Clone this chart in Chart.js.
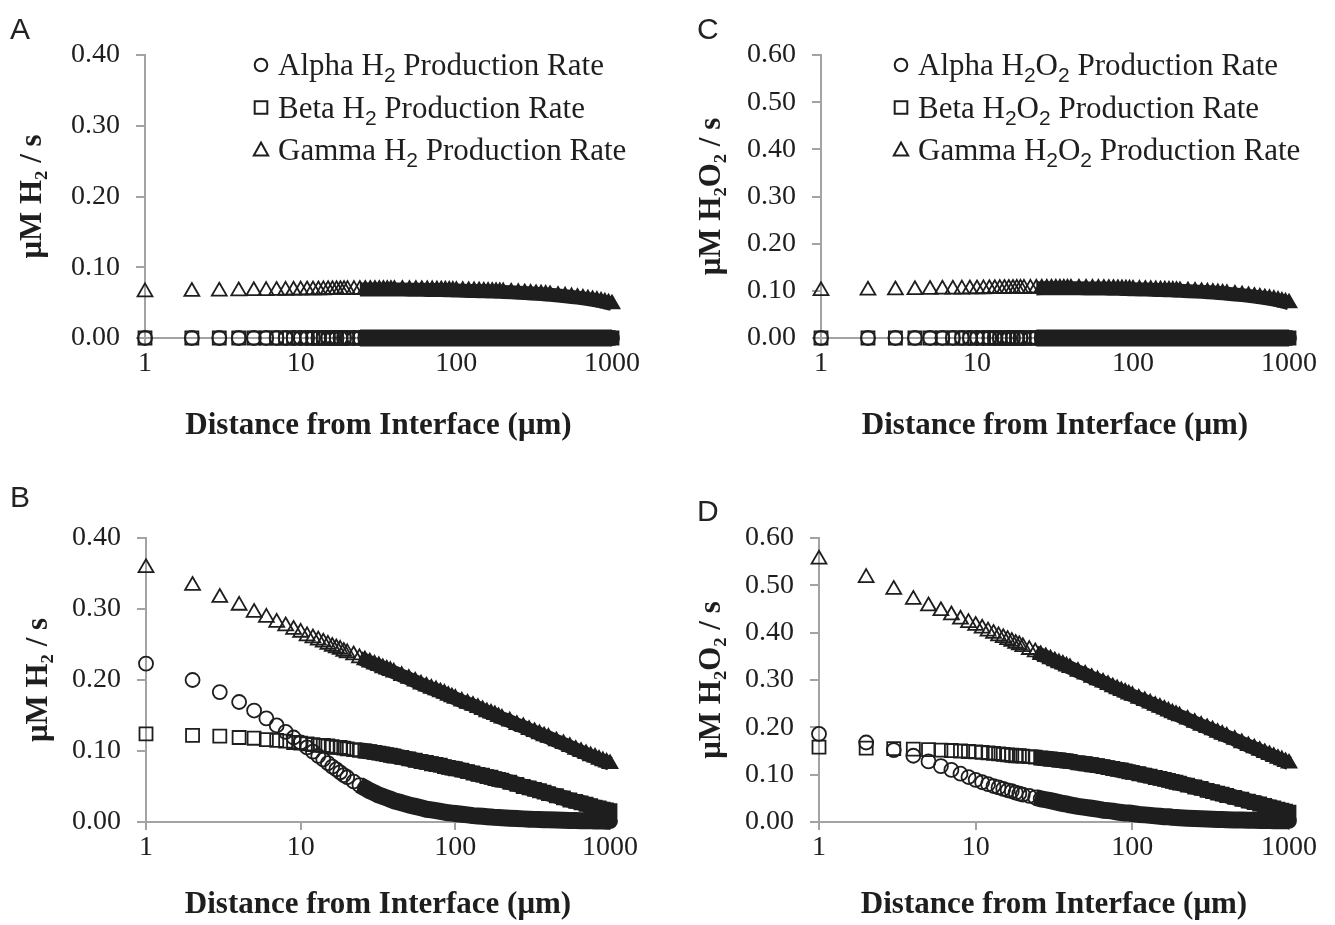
<!DOCTYPE html>
<html>
<head>
<meta charset="utf-8">
<script src="https://cdn.jsdelivr.net/npm/chart.js@4.4.1/dist/chart.umd.min.js"></script>
<style>
  html, body { margin: 0; padding: 0; background: #fff; }
  #wrap { position: relative; width: 1335px; height: 925px; overflow: hidden; }
  #wrap canvas { position: absolute; }
  .letter { position: absolute; font-family: "Liberation Sans", Arial, sans-serif; font-size: 30px; line-height: 1; color: #222; }
</style>
</head>
<body>
<div id="wrap">
  <canvas id="chartA" width="667" height="462" style="left:0;top:0"></canvas>
  <canvas id="chartB" width="667" height="463" style="left:0;top:462px"></canvas>
  <canvas id="chartC" width="668" height="462" style="left:667px;top:0"></canvas>
  <canvas id="chartD" width="668" height="463" style="left:667px;top:462px"></canvas>
  <div class="letter" style="left:10px;top:14px">A</div>
  <div class="letter" style="left:10px;top:482px">B</div>
  <div class="letter" style="left:697px;top:14px">C</div>
  <div class="letter" style="left:697px;top:496px">D</div>
</div>
<script>
// distance from interface (µm), shared by every series
const distance = [1,2,3,4,5,6,7,8,9,10, 11,12,13,14,15,16,17,18,19,20,
  22,24,26,28,30,32,34,36,38,40, 45,50,55,60,65,70,75,80,85,90,95,100,
  110,120,130,140,150,160,170,180,190,200, 225,250,275,300,325,350,375,400,
  450,500,550,600,650,700,750,800,850,900,950,1000];

// panel A - H2, alpha/beta sources at the interface
const alphaH2A = [0,0,0,0,0,0,0,0,0,0, 0,0,0,0,0,0,0,0,0,0, 0,0,0,0,0,0,0,0,0,0,
  0,0,0,0,0,0,0,0,0,0,0,0, 0,0,0,0,0,0,0,0,0,0, 0,0,0,0,0,0,0,0, 0,0,0,0,0,0,0,0,0,0,0,0];
const betaH2A = [0,0,0,0,0,0,0,0,0,0, 0,0,0,0,0,0,0,0,0,0, 0,0,0,0,0,0,0,0,0,0,
  0,0,0,0,0,0,0,0,0,0,0,0, 0,0,0,0,0,0,0,0,0,0, 0,0,0,0,0,0,0,0, 0,0,0,0,0,0,0,0,0,0,0,0];
const gammaH2A = [.0650,.0655,.0660,.0663,.0666,.0668,.0670,.0672,.0673,.0675,
  .0676,.0677,.0678,.0679,.0680,.0680,.0681,.0681,.0682,.0682,
  .0683,.0684,.0684,.0685,.0685,.0685,.0685,.0685,.0685,.0685,
  .0684,.0683,.0682,.0681,.0680,.0679,.0678,.0677,.0675,.0674,.0672,.0670,
  .0668,.0666,.0664,.0662,.0660,.0658,.0656,.0654,.0652,.0650,
  .0645,.0640,.0635,.0630,.0625,.0620,.0615,.0610,
  .0600,.0590,.0580,.0570,.0560,.0550,.0540,.0530,.0518,.0505,.0493,.0480];

// panel B - H2
const alphaH2B = [.223,.200,.183,.169,.157,.146,.136,.127,.119,.112,
  .105,.099,.093,.088,.083,.078,.074,.070,.066,.063,
  .057,.052,.048,.044,.041,.038,.036,.034,.032,.030,
  .027,.024,.022,.020,.018,.017,.016,.015,.014,.013,.0125,.012,
  .011,.010,.009,.0085,.008,.0075,.007,.0065,.0062,.006,
  .0053,.0048,.0044,.004,.0037,.0034,.0032,.003,
  .0027,.0024,.0022,.002,.0018,.0017,.0016,.0015,.0014,.0013,.0012,.0012];
const betaH2B = [.124,.122,.121,.119,.118,.116,.115,.114,.112,.111,
  .110,.109,.108,.108,.107,.106,.105,.105,.104,.103,
  .102,.101,.100,.099,.098,.097,.096,.095,.094,.093,
  .091,.089,.087,.085,.084,.082,.081,.080,.078,.077,.076,.075,
  .073,.071,.069,.067,.066,.064,.063,.061,.060,.059,
  .056,.053,.050,.048,.046,.044,.042,.040,
  .037,.034,.031,.029,.027,.025,.023,.021,.020,.018,.017,.016];
const gammaH2B = [.358,.333,.316,.305,.295,.288,.281,.276,.271,.267,
  .262,.259,.256,.253,.250,.247,.245,.243,.240,.238,
  .235,.231,.228,.225,.222,.220,.217,.215,.213,.211,
  .206,.202,.198,.194,.191,.188,.186,.183,.181,.178,.176,.174,
  .170,.167,.164,.161,.158,.155,.153,.151,.148,.146,
  .142,.137,.134,.130,.127,.124,.121,.119,
  .114,.110,.106,.102,.099,.096,.093,.091,.088,.086,.084,.082];

// panel C - H2O2
const alphaH2O2C = [0,0,0,0,0,0,0,0,0,0, 0,0,0,0,0,0,0,0,0,0, 0,0,0,0,0,0,0,0,0,0,
  0,0,0,0,0,0,0,0,0,0,0,0, 0,0,0,0,0,0,0,0,0,0, 0,0,0,0,0,0,0,0, 0,0,0,0,0,0,0,0,0,0,0,0];
const betaH2O2C = [0,0,0,0,0,0,0,0,0,0, 0,0,0,0,0,0,0,0,0,0, 0,0,0,0,0,0,0,0,0,0,
  0,0,0,0,0,0,0,0,0,0,0,0, 0,0,0,0,0,0,0,0,0,0, 0,0,0,0,0,0,0,0, 0,0,0,0,0,0,0,0,0,0,0,0];
const gammaH2O2C = [.100,.101,.1015,.102,.1025,.103,.1032,.1034,.1036,.1038,
  .104,.1042,.1043,.1045,.1046,.1047,.1048,.1049,.105,.105,
  .1051,.1052,.1053,.1054,.1054,.1054,.1054,.1054,.1054,.1054,
  .1053,.1052,.105,.1049,.1047,.1045,.1044,.1042,.104,.1038,.1035,.1032,
  .1029,.1026,.1023,.1019,.1016,.1013,.101,.1007,.1004,.1001,
  .0993,.0986,.0978,.097,.0963,.0955,.0947,.0939,
  .0924,.0909,.0893,.0878,.0862,.0847,.0832,.0816,.0798,.0778,.0759,.0739];

// panel D - H2O2
const alphaH2O2D = [.186,.168,.152,.140,.128,.118,.110,.102,.095,.089,
  .084,.080,.076,.073,.070,.067,.065,.062,.060,.058,
  .055,.052,.049,.047,.045,.043,.041,.039,.038,.036,
  .033,.031,.029,.027,.025,.024,.023,.021,.020,.019,.019,.018,
  .016,.015,.014,.013,.012,.011,.011,.010,.0095,.009,
  .008,.0073,.0067,.0062,.0058,.0054,.0051,.0048,
  .0044,.004,.0037,.0035,.0033,.0031,.003,.0029,.0028,.0027,.0026,.0025];
const betaH2O2D = [.158,.156,.155,.154,.153,.152,.151,.150,.149,.148,
  .147,.146,.145,.144,.143,.142,.141,.140,.140,.139,
  .138,.137,.135,.134,.133,.132,.131,.130,.129,.128,
  .125,.123,.121,.119,.117,.115,.113,.111,.110,.108,.106,.105,
  .102,.099,.097,.094,.092,.090,.088,.086,.084,.082,
  .078,.074,.071,.067,.064,.061,.059,.056,
  .052,.048,.044,.041,.038,.035,.032,.030,.027,.025,.023,.021];
const gammaH2O2D = [.555,.516,.491,.470,.456,.446,.437,.428,.421,.415,
  .409,.403,.398,.393,.389,.385,.381,.377,.374,.370,
  .364,.359,.353,.349,.344,.340,.336,.333,.329,.326,
  .318,.312,.305,.300,.295,.290,.285,.281,.277,.274,.270,.267,
  .261,.256,.251,.246,.242,.238,.234,.230,.227,.224,
  .217,.210,.204,.199,.194,.189,.185,.181,
  .174,.167,.161,.156,.151,.146,.142,.138,.134,.131,.127,.124];

const namesH2 = ['Alpha H₂ Production Rate', 'Beta H₂ Production Rate', 'Gamma H₂ Production Rate'];
const namesH2O2 = ['Alpha H₂O₂ Production Rate', 'Beta H₂O₂ Production Rate', 'Gamma H₂O₂ Production Rate'];
const xTicks = [1, 10, 100, 1000];
const yTicksH2 = [0, 0.1, 0.2, 0.3, 0.4];
const yTicksH2O2 = [0, 0.1, 0.2, 0.3, 0.4, 0.5, 0.6];
const xTitle = 'Distance from Interface (μm)';

const INK = '#1e1e1e';
const AXIS = '#a3a3a3';
const FILL_FROM = 40; // markers pile up into a solid band past this distance
const BAND_FROM = 24;

const styles = [
  { pointStyle: 'circle', radius: 7, band: 17 },
  { pointStyle: 'rect', radius: 9.2, band: 16 },
  { pointStyle: 'triangle', radius: 8.6, band: 14 }
];

function series(names, cols) {
  const marks = cols.map((vals, k) => ({
    label: names[k],
    data: distance.map((x, i) => ({ x: x, y: vals[i] })),
    pointStyle: styles[k].pointStyle,
    pointRadius: styles[k].radius,
    pointBorderWidth: 1.8,
    pointBorderColor: INK,
    pointBackgroundColor: c => (c.raw && c.raw.x >= FILL_FROM) ? INK : 'rgba(0,0,0,0)',
    showLine: false,
    clip: false
  }));
  // the overlapping markers past ~25 µm read as one solid band
  const bands = cols.map((vals, k) => ({
    label: names[k],
    band: true,
    data: distance.map((x, i) => ({ x: x, y: vals[i] })).filter(p => p.x >= BAND_FROM),
    showLine: true,
    borderColor: INK,
    borderWidth: styles[k].band,
    borderCapStyle: 'butt',
    borderJoinStyle: 'round',
    pointRadius: 0,
    clip: false
  }));
  return bands.concat(marks);
}

// draws the marker + label list inside the plot, with real subscripts
function marker(ctx, style, x, y) {
  ctx.beginPath();
  if (style === 'circle') {
    ctx.arc(x, y, 6.3, 0, Math.PI * 2);
  } else if (style === 'rect') {
    ctx.rect(x - 6.3, y - 6.3, 12.6, 12.6);
  } else {
    ctx.moveTo(x, y - 7.5);
    ctx.lineTo(x + 7.2, y + 5.5);
    ctx.lineTo(x - 7.2, y + 5.5);
    ctx.closePath();
  }
  ctx.stroke();
}

const innerLegend = {
  id: 'innerLegend',
  afterDraw(chart, args, opts) {
    if (!opts || opts.x === undefined) return;
    const ctx = chart.ctx;
    ctx.save();
    ctx.strokeStyle = INK;
    ctx.fillStyle = INK;
    ctx.lineWidth = 2;
    chart.data.datasets.filter(ds => !ds.band).forEach((ds, i) => {
      const y = opts.y + i * opts.gap;
      marker(ctx, ds.pointStyle, opts.x, y);
      let tx = opts.x + opts.textGap;
      ctx.textBaseline = 'alphabetic';
      ds.label.split(/([₂])/).forEach(part => {
        if (!part) return;
        if (part === '₂') {
          ctx.font = '21px "Liberation Sans", Arial, sans-serif';
          ctx.fillText('2', tx, y + 17);
          tx += ctx.measureText('2').width;
        } else {
          ctx.font = '31px "Liberation Serif", "Times New Roman", serif';
          ctx.fillText(part, tx, y + 10);
          tx += ctx.measureText(part).width;
        }
      });
    });
    ctx.restore();
  }
};

const tickFont = { family: '"Liberation Serif", "Times New Roman", serif', size: 28, lineHeight: 1 };
const titleFont = { family: '"Liberation Serif", "Times New Roman", serif', size: 31, weight: 'bold', lineHeight: 1.2 };

function makePanel(id, cfg) {
  return new Chart(document.getElementById(id), {
    type: 'scatter',
    data: { datasets: cfg.datasets },
    options: {
      responsive: false,
      animation: false,
      devicePixelRatio: 1,
      layout: { padding: { top: cfg.top, right: cfg.right, left: 0, bottom: 0 } },
      plugins: {
        legend: { display: false },
        tooltip: { enabled: false },
        innerLegend: cfg.legend || {}
      },
      scales: {
        x: {
          type: 'logarithmic',
          min: 1,
          max: 1000,
          afterBuildTicks: s => { s.ticks = xTicks.map(v => ({ value: v })); },
          afterFit: s => { s.height = cfg.xHeight; },
          grid: { drawOnChartArea: false, tickLength: 8, color: AXIS, lineWidth: 2 },
          border: { color: AXIS, width: 2 },
          ticks: { font: tickFont, color: INK, padding: cfg.xTickPad, maxRotation: 0, autoSkip: false, callback: v => String(v) },
          title: { display: true, text: xTitle, font: titleFont, color: INK, padding: { top: 0, bottom: cfg.xTitlePad } }
        },
        y: {
          min: 0,
          max: cfg.yMax,
          afterBuildTicks: s => { s.ticks = cfg.yTicks.map(v => ({ value: v })); },
          afterFit: s => { s.width = cfg.left; },
          grid: { drawOnChartArea: false, tickLength: 9, color: AXIS, lineWidth: 2 },
          border: { color: AXIS, width: 2 },
          ticks: { font: tickFont, color: INK, padding: 16, callback: v => v.toFixed(2) },
          title: { display: true, text: cfg.yTitle, font: titleFont, color: INK, padding: { top: cfg.yTitlePad, bottom: 0 } }
        }
      }
    },
    plugins: [innerLegend]
  });
}

makePanel('chartA', {
  datasets: series(namesH2, [alphaH2A, betaH2A, gammaH2A]),
  yMax: 0.4, yTicks: yTicksH2, yTitle: 'μM H₂ / s',
  top: 55, right: 55, left: 145, xHeight: 124, xTickPad: 4, xTitlePad: 17, yTitlePad: 14,
  legend: { x: 261, y: 65, gap: 42.5, textGap: 17 }
});
makePanel('chartB', {
  datasets: series(namesH2, [alphaH2B, betaH2B, gammaH2B]),
  yMax: 0.4, yTicks: yTicksH2, yTitle: 'μM H₂ / s',
  top: 76, right: 57, left: 146, xHeight: 103, xTickPad: 4, xTitlePad: 1, yTitlePad: 20
});
makePanel('chartC', {
  datasets: series(namesH2O2, [alphaH2O2C, betaH2O2C, gammaH2O2C]),
  yMax: 0.6, yTicks: yTicksH2O2, yTitle: 'μM H₂O₂ / s',
  top: 55, right: 46, left: 154, xHeight: 124, xTickPad: 4, xTitlePad: 17, yTitlePad: 26,
  legend: { x: 234, y: 65, gap: 42.5, textGap: 17 }
});
makePanel('chartD', {
  datasets: series(namesH2O2, [alphaH2O2D, betaH2O2D, gammaH2O2D]),
  yMax: 0.6, yTicks: yTicksH2O2, yTitle: 'μM H₂O₂ / s',
  top: 76, right: 46, left: 152, xHeight: 103, xTickPad: 4, xTitlePad: 1, yTitlePad: 26
});
</script>
</body>
</html>
